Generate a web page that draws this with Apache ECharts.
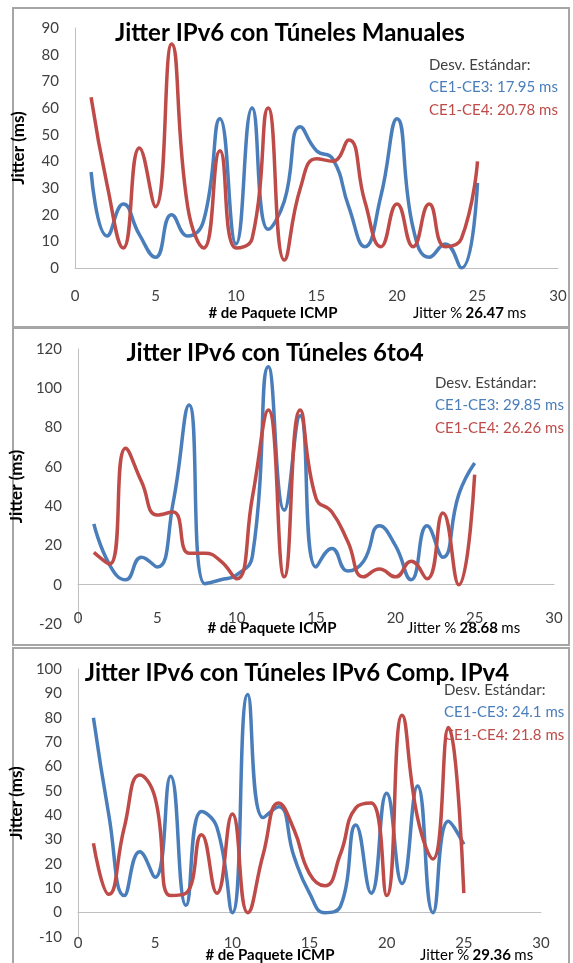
<!DOCTYPE html>
<html>
<head>
<meta charset="utf-8">
<script src="https://cdn.jsdelivr.net/npm/echarts@6/dist/echarts.min.js"></script>
<style>
html, body { margin: 0; padding: 0; background: #fff; }
#chart { width: 573px; height: 963px; }
</style>
</head>
<body>
<div id="chart"></div>
<script>
// packet number (x) for every panel
const packets = [1, 2, 3, 4, 5, 6, 7, 8, 9, 10, 11, 12, 13, 14, 15, 16, 17, 18, 19, 20, 21, 22, 23, 24, 25];

// Túneles Manuales
const manualCE3 = [36, 12, 24, 12.5, 4, 20, 12, 18, 56, 9, 60, 14.5, 25, 53, 44, 41, 23, 8, 27, 56, 15, 4, 9, 0, 32];
const manualCE4 = [64, 31, 7.5, 45, 23, 84, 23, 7.5, 44, 7.5, 11, 60, 3, 30, 41, 40, 48, 25, 8, 24, 8, 24, 8, 11, 40];

// Túneles 6to4
const t6to4CE3 = [31, 10, 2.5, 14, 9, 42, 91.5, 0.5, 2.5, 5, 15, 111, 38, 86, 9, 18.5, 7, 12, 30, 20, 2.5, 30, 14, 46, 62];
const t6to4CE4 = [16.5, 10.5, 69.5, 52.5, 35.5, 37, 16, 16, 12, 3, 45, 89, 4, 89, 44, 37, 22, 4, 8, 4, 12, 3, 36.5, 0, 56];

// Túneles IPv6 Comp. IPv4
const compCE3 = [80, 40, 7, 25, 14.5, 56, 3, 41.5, 35, 0, 89.5, 39, 43.5, 23, 8, 0, 2.5, 36, 8, 49, 12, 52, 0, 37.5, 28];
const compCE4 = [28.5, 7.5, 35, 56.5, 47, 7, 8, 32, 8, 40.5, 0, 24, 45, 34, 16, 11, 24, 43, 45, 7, 81, 39, 22, 76, 8];

const titles = ['Jitter IPv6 con Túneles Manuales', 'Jitter IPv6 con Túneles 6to4', 'Jitter IPv6 con Túneles IPv6 Comp. IPv4'];
const stdCE3 = ['17.95', '29.85', '24.1'];
const stdCE4 = ['20.78', '26.26', '21.8'];
const jitterPct = ['26.47', '28.68', '29.36'];
const yRanges = [[0, 90, 10], [-20, 120, 20], [-10, 100, 10]];

const BLUE = '#4A7EBB';
const RED = '#BE4B48';
const FONT = 'Lato';

const pairs = (vals) => vals.map((v, i) => [packets[i], v]);

// panel layout
const panels = [
    { frame: [13, 8, 556, 319], grid: { left: 75, top: 28, width: 483, height: 240 }, xMargin: 21,
      title: [290, 33], legend: [429, 65], xname: [273, 313], pct: [413, 313] },
    { frame: [13, 328, 556, 317], grid: { left: 75, top: 349, width: 479, height: 275 }, xMargin: -13,
      title: [275, 353], legend: [435, 383], xname: [272, 628], pct: [407, 628] },
    { frame: [13, 648, 556, 330], grid: { left: 75, top: 669, width: 466, height: 268 }, xMargin: -1,
      title: [297, 673], legend: [444, 690], xname: [270, 955], pct: [420, 955] }
];

const seriesData = [[manualCE3, manualCE4], [t6to4CE3, t6to4CE4], [compCE3, compCE4]];

const labelStyle = { fontFamily: FONT, fontSize: 15, color: '#404040' };

const option = {
    backgroundColor: '#fff',
    animation: false,
    grid: panels.map(p => p.grid),
    xAxis: panels.map((p, i) => ({
        type: 'value',
        gridIndex: i,
        min: 0,
        max: 30,
        interval: 5,
        axisLine: { show: true, onZero: true, lineStyle: { color: '#BFBFBF', width: 1 } },
        axisTick: { show: false },
        splitLine: { show: false },
        axisLabel: Object.assign({ margin: p.xMargin }, labelStyle)
    })),
    yAxis: panels.map((p, i) => ({
        type: 'value',
        gridIndex: i,
        min: yRanges[i][0],
        max: yRanges[i][1],
        interval: yRanges[i][2],
        name: 'Jitter (ms)',
        nameLocation: 'middle',
        nameGap: 48,
        nameTextStyle: { fontFamily: FONT, fontSize: 17, fontWeight: 'bold', color: '#000' },
        axisLine: { show: true, lineStyle: { color: '#BFBFBF', width: 1 } },
        axisTick: { show: false },
        splitLine: { show: false },
        axisLabel: Object.assign({ margin: 16 }, labelStyle)
    })),
    series: [],
    graphic: []
};

seriesData.forEach((pair, i) => {
    [BLUE, RED].forEach((c, k) => {
        option.series.push({
            type: 'line',
            xAxisIndex: i,
            yAxisIndex: i,
            data: pairs(pair[k]),
            smooth: 0.5,
            showSymbol: false,
            lineStyle: { color: c, width: 3.5 },
            itemStyle: { color: c }
        });
    });
});

panels.forEach((p, i) => {
    option.graphic.push(
        {
            type: 'rect', silent: true, z: 0,
            shape: { x: p.frame[0], y: p.frame[1], width: p.frame[2], height: p.frame[3] },
            style: { fill: null, stroke: '#A6A6A6', lineWidth: 2 }
        },
        {
            type: 'text', x: p.title[0], y: p.title[1],
            style: { text: titles[i], font: 'bold 24px ' + FONT, fill: '#000', textAlign: 'center', textVerticalAlign: 'middle' }
        },
        {
            type: 'text', x: p.legend[0], y: p.legend[1],
            style: { text: 'Desv. Estándar:', font: '15px ' + FONT, fill: '#404040', textAlign: 'left', textVerticalAlign: 'middle' }
        },
        {
            type: 'text', x: p.legend[0], y: p.legend[1] + 22,
            style: { text: 'CE1-CE3: ' + stdCE3[i] + ' ms', font: '15px ' + FONT, fill: BLUE, textAlign: 'left', textVerticalAlign: 'middle' }
        },
        {
            type: 'text', x: p.legend[0], y: p.legend[1] + 45,
            style: { text: 'CE1-CE4: ' + stdCE4[i] + ' ms', font: '15px ' + FONT, fill: RED, textAlign: 'left', textVerticalAlign: 'middle' }
        },
        {
            type: 'text', x: p.xname[0], y: p.xname[1],
            style: { text: '# de Paquete ICMP', font: 'bold 15px ' + FONT, fill: '#000', textAlign: 'center', textVerticalAlign: 'middle' }
        },
        {
            type: 'text', x: p.pct[0], y: p.pct[1],
            style: {
                text: '{a|Jitter %} {b|' + jitterPct[i] + '} {a|ms}',
                textAlign: 'left', textVerticalAlign: 'middle',
                rich: {
                    a: { fontFamily: FONT, fontSize: 15, color: '#000' },
                    b: { fontFamily: FONT, fontSize: 15, fontWeight: 'bold', color: '#000' }
                }
            }
        }
    );
});

const myChart = echarts.init(document.getElementById('chart'), null, { renderer: 'canvas' });
myChart.setOption(option);
</script>
</body>
</html>
